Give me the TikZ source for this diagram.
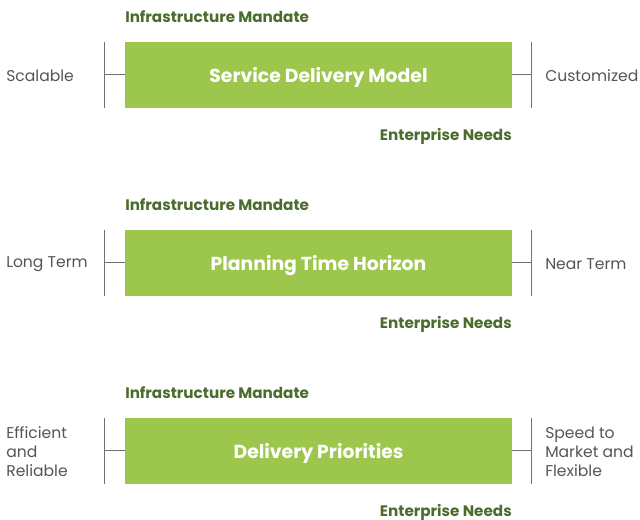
\documentclass[tikz,border=0pt]{standalone}
\usepackage{fontspec}
\setmainfont{Poppins}
\usepackage{tikz}
\usetikzlibrary{positioning}
\definecolor{leaf}{HTML}{9DC74C}
\definecolor{moss}{HTML}{4A6C2C}
\definecolor{ash}{HTML}{555555}
\definecolor{rule}{HTML}{707070}
\tikzset{
  band/.style    ={fill=leaf, minimum width=290.25pt, minimum height=49.5pt, inner sep=0pt,
                   text height=11.6pt, text depth=0pt,
                   font=\fontsize{14.1}{16}\selectfont\bfseries, text=white},
  mandate/.style ={font=\fontsize{11.4}{13}\selectfont\bfseries, text=moss, inner sep=0pt},
  side/.style    ={font=\fontsize{11.7}{14.25}\selectfont, text=ash, align=left, anchor=west, inner sep=0pt},
  bracket/.style ={draw=rule, line width=0.75pt},
}
\begin{document}
\begin{tikzpicture}[x=0.75pt,y=-0.75pt]
\useasboundingbox (0,0) rectangle (640,520);
% ---- three rows: mandate on top, needs below, trade-off on each side
\foreach \row/\y/\title/\lft/\rgt in {
    1/75/Service Delivery Model/Scalable/Customized,
    2/263/Planning Time Horizon/Long Term/Near Term,
    3/451/Delivery Priorities/{Efficient\\and\\Reliable}/{Speed to\\Market and\\Flexible}} {
  \node[band] (box\row) at (318.5,\y) {\title};
  \node[mandate, anchor=west] (mand\row) at (125,\y-58) {Infrastructure Mandate};
  \node[mandate, anchor=east] (need\row) at (512,\y+61) {Enterprise Needs};
  \node[side] (lft\row) at (6,\y+1) {\lft};
  \node[side] (rgt\row) at (545,\y+1) {\rgt};
  % brackets
  \coordinate (lt\row) at (104,\y-33);
  \coordinate (lb\row) at (104,\y+33);
  \coordinate (lm\row) at (104,\y);
  \coordinate (rt\row) at (531.5,\y-33);
  \coordinate (rb\row) at (531.5,\y+33);
  \coordinate (rm\row) at (531.5,\y);
  \draw[bracket] (lt\row) -- (lb\row);
  \draw[bracket] (lm\row) -- (box\row.west);
  \draw[bracket] (rt\row) -- (rb\row);
  \draw[bracket] (box\row.east) -- (rm\row);
}
\end{tikzpicture}
\end{document}
